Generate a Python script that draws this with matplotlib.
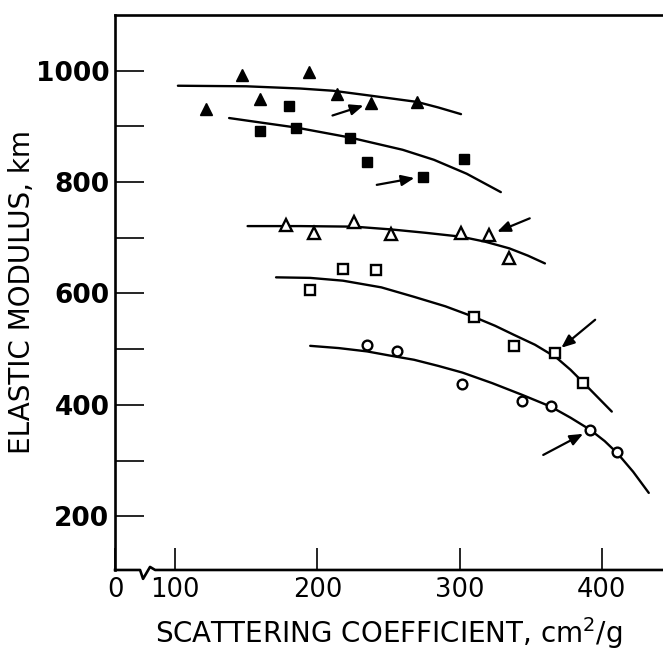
import numpy as np
from matplotlib import pyplot as plt

# filled triangles
triF_x = [122, 147, 160, 194, 214, 238, 270]
triF_y = [931, 993, 949, 998, 959, 942, 944]
# filled squares
sqF_x = [160, 180, 185, 223, 235, 274, 303]
sqF_y = [892, 937, 898, 880, 836, 810, 841]
# open triangles
triO_x = [178, 198, 226, 252, 301, 321, 335]
triO_y = [723, 709, 728, 706, 709, 705, 663]
# open squares
sqO_x = [195, 218, 241, 310, 338, 367, 387]
sqO_y = [606, 644, 642, 558, 506, 493, 440]
# circles
circ_x = [235, 256, 302, 344, 364, 392, 411]
circ_y = [507, 497, 437, 407, 398, 355, 316]

# fitted curves
c1_x = [102, 150, 188, 211, 235, 270, 285, 301]
c1_y = [973, 972, 968, 964, 956, 944, 934, 922]
c2_x = [138, 160, 185, 223, 260, 282, 305, 329]
c2_y = [915, 907, 898, 880, 858, 840, 815, 782]
c3_x = [151, 188, 226, 252, 276, 301, 318, 335, 348, 360]
c3_y = [721, 721, 720, 715, 709, 702, 693, 681, 668, 654]
c4_x = [171, 195, 218, 245, 268, 290, 310, 325, 338, 353, 368, 378, 387, 397, 407]
c4_y = [629, 628, 623, 611, 594, 577, 558, 542, 526, 508, 485, 463, 440, 414, 388]
c5_x = [195, 215, 235, 250, 268, 285, 302, 323, 344, 364, 378, 392, 402, 411, 422, 433]
c5_y = [506, 502, 496, 489, 481, 470, 458, 439, 418, 397, 377, 355, 335, 313, 280, 242]

plt.rcParams['font.family'] = ['DejaVu Sans']

fig = plt.figure(figsize=(6.63, 6.52), dpi=100)
ax = fig.add_axes([0.1735, 0.1258, 0.8265, 0.8512])

for cx, cy in [(c1_x, c1_y), (c2_x, c2_y), (c3_x, c3_y), (c4_x, c4_y), (c5_x, c5_y)]:
    ax.plot(cx, cy, color='black', lw=1.7, solid_capstyle='round',
            solid_joinstyle='round', zorder=2)

ax.plot(triF_x, triF_y, '^', color='black', ms=8.5, zorder=3)
ax.plot(sqF_x, sqF_y, 's', color='black', ms=6.5, zorder=3)
ax.plot(triO_x, triO_y, '^', mfc='white', mec='black', mew=1.7, ms=8.5, zorder=3)
ax.plot(sqO_x, sqO_y, 's', mfc='white', mec='black', mew=1.7, ms=6.5, zorder=3)
ax.plot(circ_x, circ_y, 'o', mfc='white', mec='black', mew=1.7, ms=7, zorder=3)

# arrows pointing at selected points (offset of tail in points)
arrows = [((triF_x[5], triF_y[5]), (-28, -9)),
          ((sqF_x[5], sqF_y[5]), (-33, -6)),
          ((triO_x[5], triO_y[5]), (29, 12)),
          ((sqO_x[5], sqO_y[5]), (29, 24)),
          ((circ_x[5], circ_y[5]), (-34, -18))]
for xy, off in arrows:
    ax.annotate('', xy=xy, xytext=off, textcoords='offset points',
                arrowprops=dict(arrowstyle='-|>,head_length=0.6,head_width=0.25',
                                color='black', lw=1.6,
                                mutation_scale=13, shrinkA=0, shrinkB=6))

xmin, xmax = 57.8, 443
ax.set_xlim(xmin, xmax)
ax.set_ylim(103.6, 1100)

ax.set_xticks([xmin, 100, 200, 300, 400])
ax.set_xticklabels(['0', '100', '200', '300', '400'])
ax.set_yticks([200, 400, 600, 800, 1000])
ax.set_yticks([300, 500, 700, 900], minor=True)

ax.tick_params(axis='y', which='both', direction='in', length=21, width=1.2,
               labelsize=19, pad=4)
ax.tick_params(axis='x', direction='in', length=16, width=1.2, labelsize=18.5, pad=5)
for lab in ax.get_yticklabels():
    lab.set_fontweight('bold')

ax.spines['right'].set_visible(False)
ax.spines['bottom'].set_visible(False)
for s in ['left', 'top']:
    ax.spines[s].set_linewidth(1.9)

# bottom axis with a break between 0 and 100
tr = ax.get_xaxis_transform()
ax.plot([xmin, 75.4, 77.5, 82.4, 86, xmax], [0, 0, -0.016, 0.0055, 0, 0],
        color='black', lw=1.9, transform=tr, clip_on=False, zorder=4)

ax.set_xlabel('SCATTERING COEFFICIENT, cm$^2$/g', fontsize=20, labelpad=9)
ax.set_ylabel('ELASTIC MODULUS, km', fontsize=20, labelpad=0)

fig.savefig('out.png', dpi=100)
